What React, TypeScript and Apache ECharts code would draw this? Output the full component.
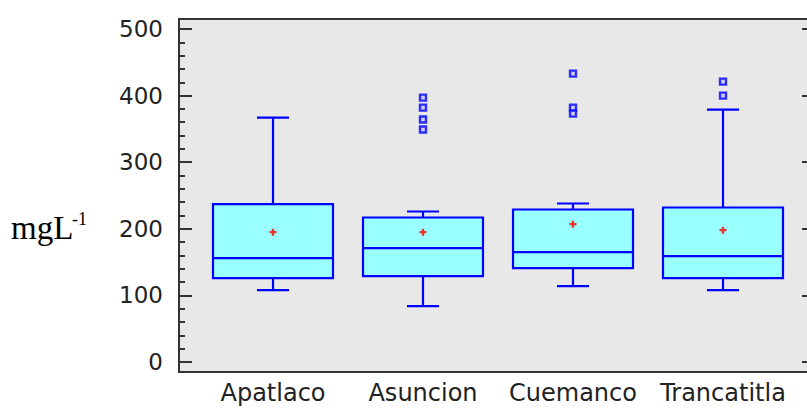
import React, { useEffect, useRef } from "react";
import * as echarts from "echarts";

const categories = ["Apatlaco", "Asuncion", "Cuemanco", "Trancatitla"];
// [min whisker, Q1, median, Q3, max whisker]
const boxStats = [
  [108, 126, 156, 237, 367],
  [84, 129, 171, 217, 226],
  [114, 141, 165, 229, 238],
  [108, 126, 159, 232, 379],
];
const means = [195, 195, 207, 198];
const outliers: [number, number][] = [
  [1, 397],
  [1, 382],
  [1, 364],
  [1, 349],
  [2, 433],
  [2, 382],
  [2, 373],
  [3, 421],
  [3, 400],
];
const majorTicks = [0, 100, 200, 300, 400, 500];
const minorTicks = Array.from({ length: 26 }, (_, i) => i * 20);

const BLUE = "#0000ff";
const FILL = "#99ffff";
const AXIS = "#333333";
const TEXT = "#222222";
const FONT = "DejaVu Sans";

export default function App() {
  const ref = useRef<HTMLDivElement>(null);
  useEffect(() => {
    if (!ref.current) return;
    const chart = echarts.init(ref.current, null, { renderer: "svg" });
    const boxData = boxStats.map((s, i) => [i, ...s]);
    chart.setOption({
      animation: false,
      backgroundColor: "#ffffff",
      grid: { left: 198, right: 9, top: 19, bottom: 37 },
      graphic: [
        {
          type: "rect",
          z: -10,
          silent: true,
          shape: { x: 179, y: 19, width: 640, height: 353 },
          style: { fill: "#e8e8e8", stroke: AXIS, lineWidth: 2 },
        },
        {
          type: "text",
          x: 11,
          y: 228,
          style: {
            text: "mgL",
            font: "33px 'Liberation Serif'",
            fill: "#000",
            textVerticalAlign: "middle",
          },
        },
        {
          type: "text",
          x: 72,
          y: 219,
          style: {
            text: "-1",
            font: "18px 'Liberation Serif'",
            fill: "#000",
            textVerticalAlign: "middle",
          },
        },
      ],
      xAxis: {
        type: "category",
        data: categories,
        boundaryGap: true,
        axisLine: { show: false },
        axisTick: { show: false },
        axisLabel: {
          color: TEXT,
          fontSize: 24,
          fontFamily: FONT,
          margin: 9,
          interval: 0,
          hideOverlap: false,
        },
        splitLine: { show: false },
      },
      yAxis: [
        {
          type: "value",
          position: "left",
          offset: 19,
          min: -15,
          max: 515,
          axisLine: { show: false },
          axisTick: {
            show: true,
            inside: true,
            length: 13,
            customValues: majorTicks,
            lineStyle: { color: AXIS, width: 2 },
          },
          axisLabel: {
            customValues: majorTicks,
            color: TEXT,
            fontSize: 23,
            fontFamily: FONT,
            margin: 16,
          },
          splitLine: { show: false },
        },
        {
          type: "value",
          position: "left",
          offset: 19,
          min: -15,
          max: 515,
          axisLine: { show: false },
          axisTick: {
            show: true,
            inside: true,
            length: 6,
            customValues: minorTicks,
            lineStyle: { color: AXIS, width: 2 },
          },
          axisLabel: { show: false },
          splitLine: { show: false },
        },
        {
          type: "value",
          position: "right",
          offset: 16,
          min: -15,
          max: 515,
          axisLine: { show: false },
          axisTick: {
            show: true,
            inside: true,
            length: 12,
            customValues: majorTicks,
            lineStyle: { color: AXIS, width: 2 },
          },
          axisLabel: { show: false },
          splitLine: { show: false },
        },
      ],
      series: [
        {
          type: "custom",
          yAxisIndex: 0,
          data: boxData,
          encode: { x: 0, y: [1, 2, 3, 4, 5] },
          renderItem: (params: any, api: any) => {
            const i = api.value(0);
            const pMin = api.coord([i, api.value(1)]);
            const pQ1 = api.coord([i, api.value(2)]);
            const pMed = api.coord([i, api.value(3)]);
            const pQ3 = api.coord([i, api.value(4)]);
            const pMax = api.coord([i, api.value(5)]);
            const band = api.size([1, 0])[0];
            const cx = pMed[0];
            const bh = band * 0.4;
            const ch = band * 0.107;
            const ls = { stroke: BLUE, lineWidth: 2.2, fill: "none" };
            return {
              type: "group",
              children: [
                { type: "line", shape: { x1: cx, y1: pMax[1], x2: cx, y2: pQ3[1] }, style: ls },
                { type: "line", shape: { x1: cx, y1: pQ1[1], x2: cx, y2: pMin[1] }, style: ls },
                { type: "line", shape: { x1: cx - ch, y1: pMax[1], x2: cx + ch, y2: pMax[1] }, style: ls },
                { type: "line", shape: { x1: cx - ch, y1: pMin[1], x2: cx + ch, y2: pMin[1] }, style: ls },
                {
                  type: "rect",
                  shape: { x: cx - bh, y: pQ3[1], width: bh * 2, height: pQ1[1] - pQ3[1] },
                  style: { fill: FILL, stroke: BLUE, lineWidth: 2.2 },
                },
                { type: "line", shape: { x1: cx - bh, y1: pMed[1], x2: cx + bh, y2: pMed[1] }, style: ls },
              ],
            };
          },
        },
        {
          type: "scatter",
          yAxisIndex: 0,
          data: means.map((m, i) => [i, m]),
          symbol: "path://M2,0h2v2h2v2h-2v2h-2v-2h-2v-2h2z",
          symbolSize: 7,
          itemStyle: { color: "#ff0000" },
          z: 5,
        },
        {
          type: "scatter",
          yAxisIndex: 0,
          data: outliers,
          symbol: "rect",
          symbolSize: 6,
          itemStyle: { color: "#c8c8ff", borderColor: BLUE, borderWidth: 2.4 },
          z: 5,
        },
      ],
    });
    return () => chart.dispose();
  }, []);
  return (
    <div
      ref={ref}
      style={{ position: "fixed", left: 0, top: 0, width: 807, height: 409 }}
    />
  );
}
